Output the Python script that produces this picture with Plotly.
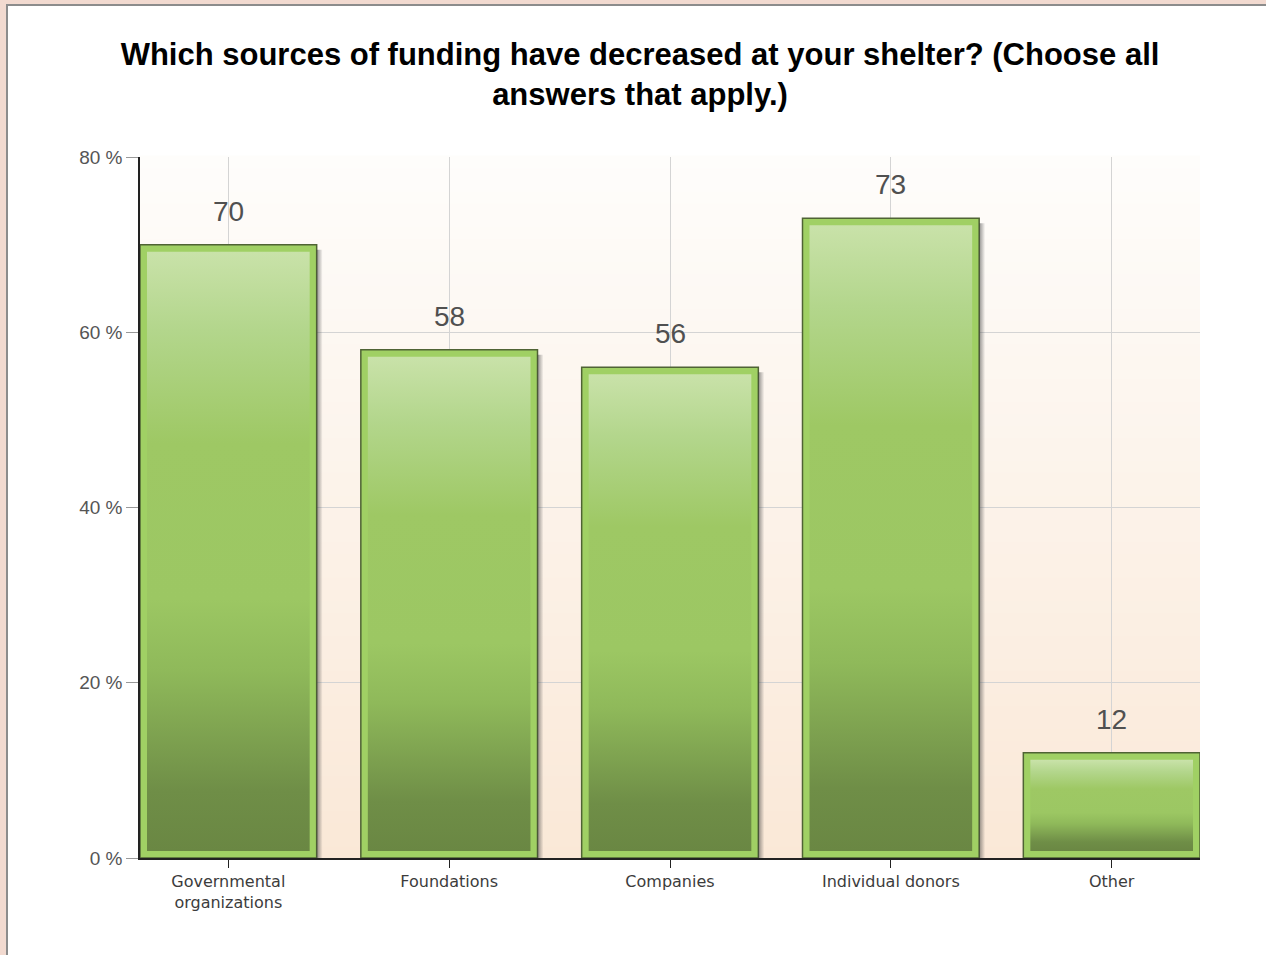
import plotly.graph_objects as go

categories = ["Governmental<br>organizations", "Foundations", "Companies",
              "Individual donors", "Other"]
values = [70, 58, 56, 73, 12]
y_ticks = [0, 20, 40, 60, 80]

# pixel geometry of the plot area (used to turn px insets into data units)
W, H = 1266, 955
L, R, T, B = 140, 66, 157, 97
x_range = [-0.4, 4.4]
y_range = [0, 80]
px_x = (W - L - R) / (x_range[1] - x_range[0])
px_y = (H - T - B) / (y_range[1] - y_range[0])
bar_w = 0.8

fig = go.Figure()

# main bars = light green frame with dark outline
fig.add_trace(go.Bar(
    x=list(range(len(categories))),
    y=values,
    width=bar_w,
    marker=dict(color="#a0d064", line=dict(color="#4f6334", width=1.5)),
    hoverinfo="skip",
))

fx = 7 / px_x
fy = 7 / px_y
sx = 6 / px_x
sy = 5 / px_y
for i, v in enumerate(values):
    x0, x1 = i - bar_w / 2, i + bar_w / 2
    # drop shadow on the right side
    fig.add_trace(go.Scatter(
        x=[x1, x1 + sx, x1 + sx, x1, x1],
        y=[v - sy, v - sy, 0, 0, v - sy],
        mode="lines", line=dict(width=0), fill="toself",
        fillgradient=dict(type="horizontal",
                          colorscale=[[0, "rgba(60,60,60,0.55)"],
                                      [1, "rgba(60,60,60,0)"]]),
        hoverinfo="skip", showlegend=False,
    ))
    # inner gradient
    fig.add_trace(go.Scatter(
        x=[x0 + fx, x1 - fx, x1 - fx, x0 + fx, x0 + fx],
        y=[fy, fy, v - fy, v - fy, fy],
        mode="lines", line=dict(width=0), fill="toself",
        fillgradient=dict(type="vertical", colorscale=[
            [0, "#6a8743"], [0.1, "#6f8e47"], [0.3, "#8fb95a"],
            [0.42, "#9cc763"], [0.68, "#9ec864"], [0.87, "#b3d68c"],
            [1, "#c9e2a9"]]),
        hoverinfo="skip", showlegend=False,
    ))
    fig.add_annotation(x=i, y=v, text=str(v), showarrow=False,
                       yanchor="bottom", yshift=16,
                       font=dict(family="Liberation Sans, Arial", size=28,
                                 color="#505050"))

# white card on a pink page
shapes = [dict(type="rect", xref="paper", yref="paper", layer="below",
               x0=(7 - L) / (W - L - R), x1=1.1,
               y0=-0.2, y1=(H - B - 5) / (H - T - B),
               fillcolor="white", line=dict(color="#8c8c8c", width=2))]
# plot background gradient: near white at top, peach at bottom
n = 60
top_c = (254, 253, 251)
bot_c = (250, 232, 215)
for k in range(n):
    t = (k + 0.5) / n
    c = tuple(round(bot_c[j] + (top_c[j] - bot_c[j]) * t) for j in range(3))
    shapes.append(dict(type="rect", xref="x domain", yref="y domain",
                       layer="below", x0=0, x1=1, y0=k / n, y1=(k + 1) / n + 0.002,
                       fillcolor="rgb(%d,%d,%d)" % c, line=dict(width=0)))

fig.update_layout(
    width=W, height=H,
    margin=dict(l=L, r=R, t=T, b=B),
    paper_bgcolor="#f2dad0",
    plot_bgcolor="rgba(0,0,0,0)",
    showlegend=False,
    shapes=shapes,
    title=dict(
        text="Which sources of funding have decreased at your shelter? (Choose all<br>answers that apply.)",
        x=640 / W, xref="container", xanchor="center",
        y=1 - 65 / H, yref="container", yanchor="top",
        font=dict(family="Liberation Sans, Arial", size=31, color="#000000",
                  weight="bold"),
    ),
    xaxis=dict(
        range=x_range,
        tickmode="array", tickvals=list(range(len(categories))),
        ticktext=categories,
        showgrid=True, gridcolor="#d4d4d4", gridwidth=1,
        showline=True, linecolor="#222222", linewidth=1.5,
        ticks="outside", ticklen=8, tickcolor="#222222",
        tickfont=dict(family="DejaVu Sans", size=16, color="#3c3c3c"),
        zeroline=False, fixedrange=True,
    ),
    yaxis=dict(
        range=y_range, tickmode="array", tickvals=y_ticks,
        ticktext=["%d %%" % v for v in y_ticks],
        showgrid=True, gridcolor="#d4d4d4", gridwidth=1,
        showline=True, linecolor="#222222", linewidth=1.5,
        ticks="outside", ticklen=12, tickcolor="#999999",
        tickfont=dict(family="Liberation Sans, Arial", size=19, color="#555555"),
        zeroline=False, fixedrange=True,
    ),
)

fig.write_html("out.html", config={"displayModeBar": False},
               post_script="document.body.style.margin='0';")
